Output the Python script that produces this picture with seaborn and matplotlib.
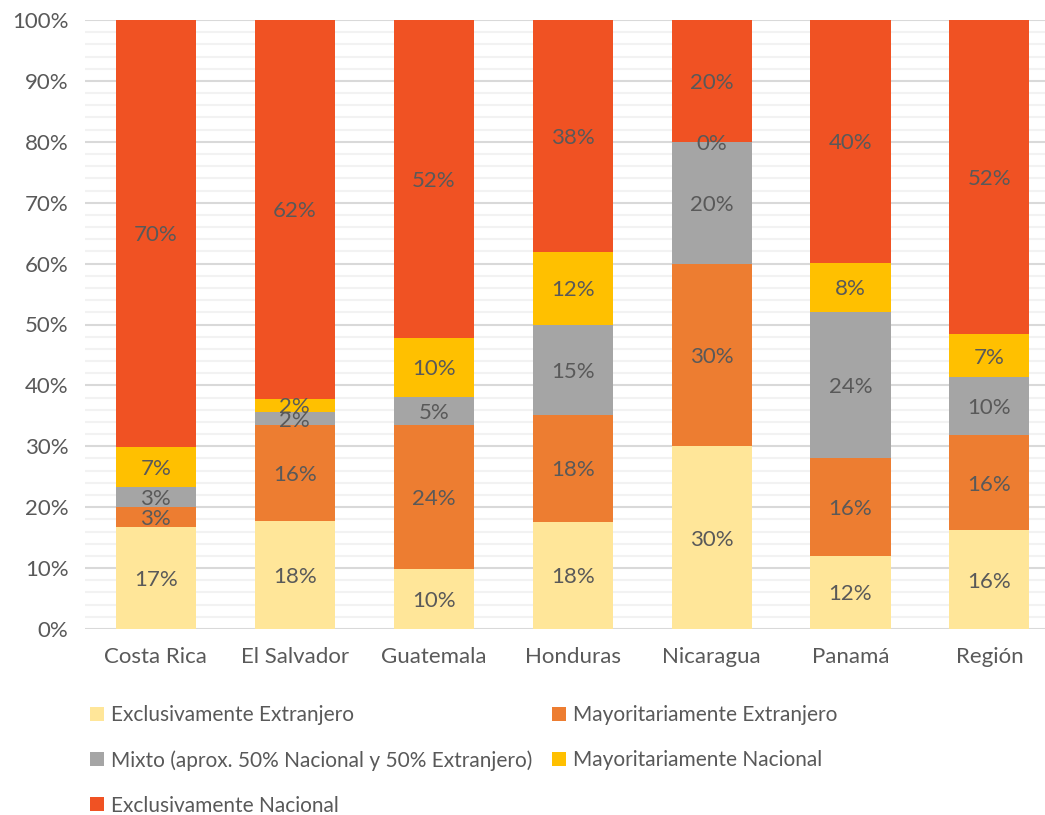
import matplotlib
matplotlib.use("Agg")
import matplotlib.pyplot as plt
import seaborn as sns
import pandas as pd
import numpy as np
from matplotlib.patches import Patch
from matplotlib.ticker import MultipleLocator, FuncFormatter

countries = ["Costa Rica", "El Salvador", "Guatemala", "Honduras", "Nicaragua", "Panamá", "Región"]
series_names = [
    "Exclusivamente Extranjero",
    "Mayoritariamente Extranjero",
    "Mixto (aprox. 50% Nacional y 50% Extranjero)",
    "Mayoritariamente Nacional",
    "Exclusivamente Nacional",
]
excl_extranjero = [16.7, 17.7, 9.9, 17.6, 30.0, 12.0, 16.2]
may_extranjero = [3.4, 15.8, 23.6, 17.6, 30.0, 16.1, 15.7]
mixto = [3.2, 2.1, 4.6, 14.8, 20.0, 24.0, 9.5]
may_nacional = [6.6, 2.2, 9.7, 11.9, 0.0, 8.0, 7.0]
excl_nacional = [70.1, 62.2, 52.2, 38.1, 20.0, 39.9, 51.6]
colors = ["#FFE699", "#ED7D31", "#A5A5A5", "#FFC000", "#F05223"]

sns.set_theme(style="white")
plt.rcParams["font.family"] = ["Lato", "DejaVu Sans"]
txt = "#595959"
wt = "normal"

series = [excl_extranjero, may_extranjero, mixto, may_nacional, excl_nacional]
vals = np.array(series)
cum = np.cumsum(vals, axis=0)

fig = plt.figure(figsize=(10.45, 8.15), dpi=100)
ax = fig.add_axes([85 / 1045, 1 - 629 / 815, 1 - 85 / 1045, (629 - 20) / 815])

# draw cumulative layers, tallest first
for i in range(len(series) - 1, -1, -1):
    df = pd.DataFrame({"pais": countries, "valor": cum[i]})
    sns.barplot(data=df, x="pais", y="valor", color=colors[i], saturation=1,
                width=0.576, ax=ax, order=countries, zorder=2, linewidth=0)

for i in range(len(series)):
    for j in range(len(countries)):
        ax.text(j, cum[i][j] - vals[i][j] / 2, f"{vals[i][j]:.0f}%", ha="center",
                va="center_baseline", fontsize=16, color=txt, fontweight=wt, zorder=5)

ax.set_ylim(0, 100)
ax.set_xlim(-0.51, 6.4)
ax.yaxis.set_major_locator(MultipleLocator(10))
ax.yaxis.set_minor_locator(MultipleLocator(2))
ax.yaxis.set_major_formatter(FuncFormatter(lambda v, p: f"{v:.0f}%"))
ax.grid(axis="y", which="major", color="#D9D9D9", linewidth=1.5, zorder=0)
ax.grid(axis="y", which="minor", color="#F2F2F2", linewidth=1.5, zorder=0)
ax.set_axisbelow(True)
for s in ax.spines.values():
    s.set_visible(False)
ax.set_xlabel("")
ax.set_ylabel("")
ax.tick_params(axis="y", which="both", length=0, pad=12, labelsize=16, labelcolor=txt)
ax.tick_params(axis="x", length=0, pad=13, labelsize=16, labelcolor=txt)
for lab in ax.get_xticklabels() + ax.get_yticklabels():
    lab.set_fontweight(wt)

handles = [Patch(facecolor=c, edgecolor="none") for c in colors]
order = [0, 2, 4, 1, 3]
leg = fig.legend([handles[k] for k in order], [series_names[k] for k in order],
                 loc="upper left", bbox_to_anchor=(90 / 1045, 1 - 705 / 815), ncol=2,
                 frameon=False, fontsize=15, handlelength=0.65, handleheight=0.65,
                 handletextpad=0.35, columnspacing=0.95, labelspacing=1.2,
                 borderaxespad=0, borderpad=0)
for t in leg.get_texts():
    t.set_color(txt)
    t.set_fontweight(wt)

fig.savefig("out.png", dpi=100)
